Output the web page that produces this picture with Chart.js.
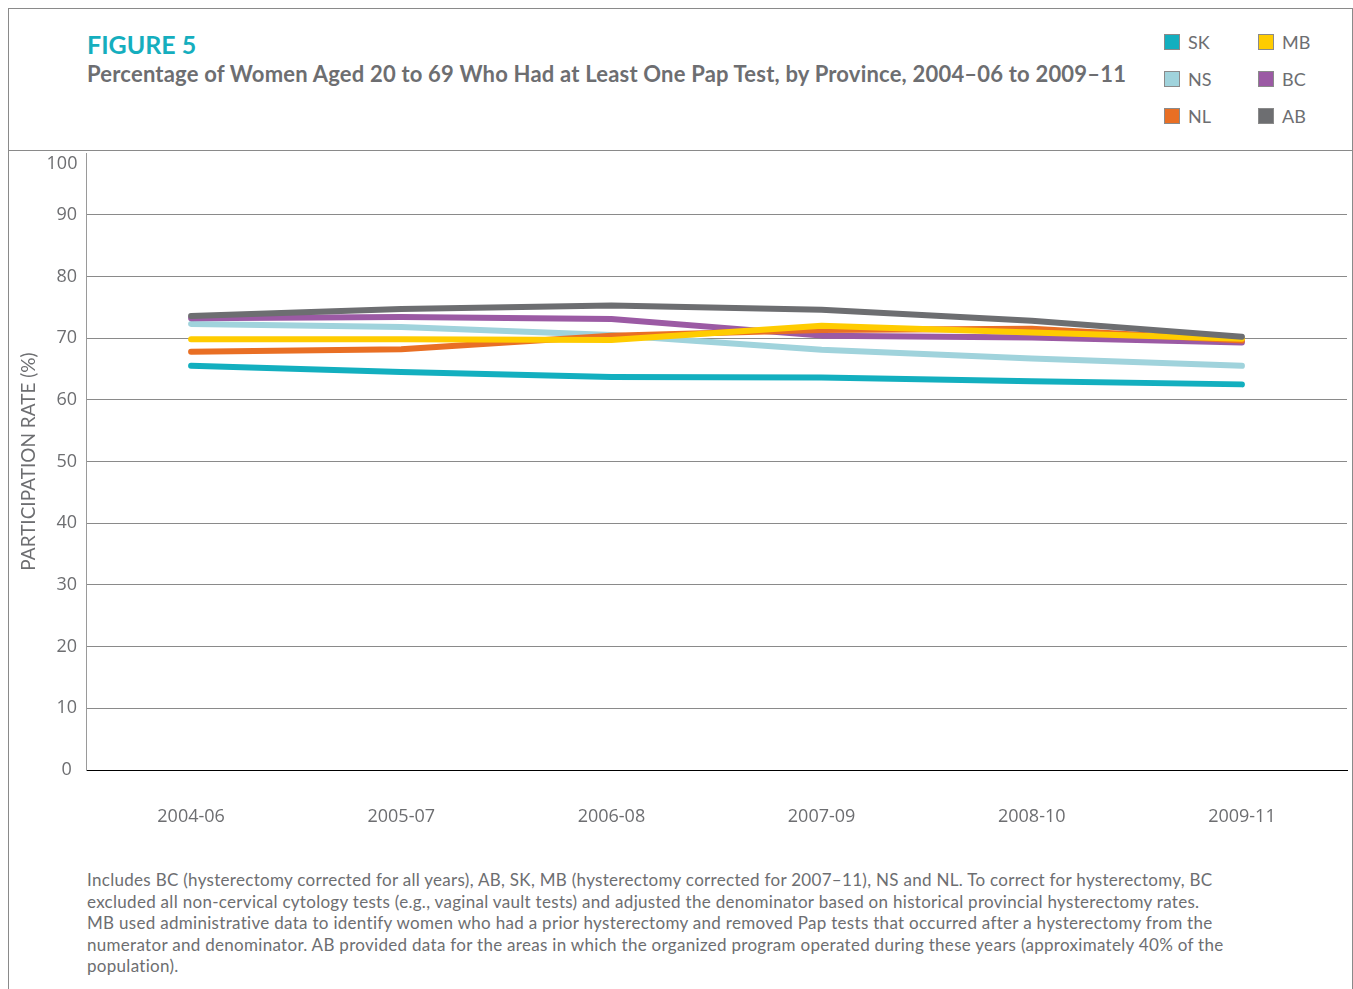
<!DOCTYPE html>
<html>
<head>
<meta charset="utf-8">
<script src="https://cdn.jsdelivr.net/npm/chart.js@4"></script>
<style>
  body { margin: 0; background: #fff; width: 1353px; height: 989px; overflow: hidden; position: relative; font-family: Lato, sans-serif; }
  .frame { position: absolute; left: 8px; top: 8px; width: 1343px; height: 990px; border: 1px solid #8a8a8a; border-bottom: none; }
  .sep { position: absolute; left: 8px; top: 150px; width: 1345px; height: 1px; background: #8a8a8a; }
  .fig { position: absolute; left: 87px; top: 29px; font-size: 25px; font-weight: bold; color: #15aebe; }
  .sub { position: absolute; left: 87px; top: 60px; font-size: 22px; letter-spacing: 0.2px; font-weight: bold; color: #6d6e71; white-space: nowrap; }
  .legend { position: absolute; left: 1164px; top: 31px; }
  .li { position: absolute; white-space: nowrap; font-size: 18px; color: #6d6e71; }
  .li span { position: absolute; left: 0; top: 3px; width: 14px; height: 14px; border: 1px solid #8a8a8a; }
  .li b { font-weight: normal; position: absolute; left: 24px; top: 0; line-height: 22px; }
  .note { position: absolute; left: 87px; top: 869px; font-size: 17px; letter-spacing: 0.3px; line-height: 21.5px; color: #6d6e71; white-space: nowrap; }
  canvas { position: absolute; left: 9px; top: 130px; }
</style>
</head>
<body>
<div class="frame"></div>
<div class="sep"></div>
<div class="fig">FIGURE 5</div>
<div class="sub">Percentage of Women Aged 20 to 69 Who Had at Least One Pap Test, by Province, 2004–06 to 2009–11</div>
<div class="legend" id="legend"></div>
<canvas id="myChart" width="1341" height="700"></canvas>
<div class="note">Includes BC (hysterectomy corrected for all years), AB, SK, MB (hysterectomy corrected for 2007–11), NS and NL. To correct for hysterectomy, BC<br>excluded all non-cervical cytology tests (e.g., vaginal vault tests) and adjusted the denominator based on historical provincial hysterectomy rates.<br>MB used administrative data to identify women who had a prior hysterectomy and removed Pap tests that occurred after a hysterectomy from the<br>numerator and denominator. AB provided data for the areas in which the organized program operated during these years (approximately 40% of the<br>population).</div>
<script>
var categories = ["2004-06", "2005-07", "2006-08", "2007-09", "2008-10", "2009-11"];
var provinces = ["SK", "NS", "NL", "MB", "BC", "AB"];
var sk = [65.5, 64.5, 63.7, 63.6, 63.0, 62.5];
var ns = [72.3, 71.8, 70.5, 68.1, 66.7, 65.5];
var nl = [67.8, 68.2, 70.4, 71.3, 71.5, 69.6];
var mb = [69.8, 69.8, 69.7, 72.0, 70.9, 69.9];
var bc = [73.2, 73.4, 73.1, 70.4, 70.1, 69.3];
var ab = [73.6, 74.7, 75.3, 74.6, 72.8, 70.2];
var yTicks = [0, 10, 20, 30, 40, 50, 60, 70, 80, 90, 100];

var colors = ["#13afbf", "#a0d3dc", "#e96f24", "#ffcc00", "#9b5aa4", "#6d6e71"];
var drawOrder = [5, 4, 2, 1, 3, 0]; // AB on top, SK at the bottom
var series = [sk, ns, nl, mb, bc, ab];

var datasets = provinces.map(function(p, i) {
  return {
    label: p,
    data: series[i],
    borderColor: colors[i],
    backgroundColor: colors[i],
    borderWidth: 6,
    pointRadius: 0,
    tension: 0,
    borderCapStyle: "round",
    borderJoinStyle: "round",
    order: drawOrder[i]
  };
});

// legend: two columns, three rows
var legend = document.getElementById("legend");
provinces.forEach(function(p, i) {
  var col = Math.floor(i / 3), row = i % 3;
  var d = document.createElement("div");
  d.className = "li";
  d.style.left = (col * 94) + "px";
  d.style.top = (row * 37) + "px";
  d.innerHTML = '<span style="background:' + colors[i] + '"></span><b>' + p + '</b>';
  legend.appendChild(d);
});

// the top label (100) sits a little below the axis end in the original
var topLabel = {
  id: "topLabel",
  afterDraw: function(chart) {
    var y = chart.scales.y, c = chart.ctx;
    c.save();
    c.font = "18px 'Open Sans'";
    c.fillStyle = "#6d6e71";
    c.textAlign = "center";
    c.textBaseline = "middle";
    c.fillText(String(yTicks[yTicks.length - 1]), 53, y.getPixelForValue(100) + 11);
    c.restore();
  }
};

var ctx = document.getElementById("myChart").getContext("2d");
new Chart(ctx, {
  type: "line",
  data: { labels: categories, datasets: datasets },
  plugins: [topLabel],
  options: {
    responsive: false,
    animation: false,
    layout: { padding: { top: 23, right: 3, left: 0, bottom: 0 } },
    plugins: { legend: { display: false }, tooltip: { enabled: false } },
    scales: {
      x: {
        offset: true,
        grid: { display: false, drawTicks: false },
        border: { color: "#000", width: 1 },
        ticks: { color: "#6d6e71", font: { family: "Open Sans", size: 18 }, padding: 36 },
        afterFit: function(s) { s.height = 60; }
      },
      y: {
        min: 0,
        max: 100,
        afterBuildTicks: function(s) { s.ticks = yTicks.map(function(v) { return { value: v }; }); },
        grid: {
          drawTicks: false,
          lineWidth: 1,
          color: function(c) {
            if (c.tick.value === 100) return "rgba(0,0,0,0)";
            if (c.tick.value === 0) return "#000";
            return "#8a8a8a";
          }
        },
        border: { color: "#9a9a9a", width: 1 },
        ticks: {
          color: "#6d6e71",
          font: { family: "Open Sans", size: 18 },
          padding: 9,
          crossAlign: "center",
          callback: function(v) { return v === 100 ? "" : v; }
        },
        title: {
          display: true,
          text: "PARTICIPATION RATE (%)",
          color: "#6d6e71",
          font: { family: "Lato", size: 19 },
          padding: { top: 8, bottom: 0 }
        },
        afterFit: function(s) { s.width = 77; }
      }
    }
  }
});
</script>
</body>
</html>
